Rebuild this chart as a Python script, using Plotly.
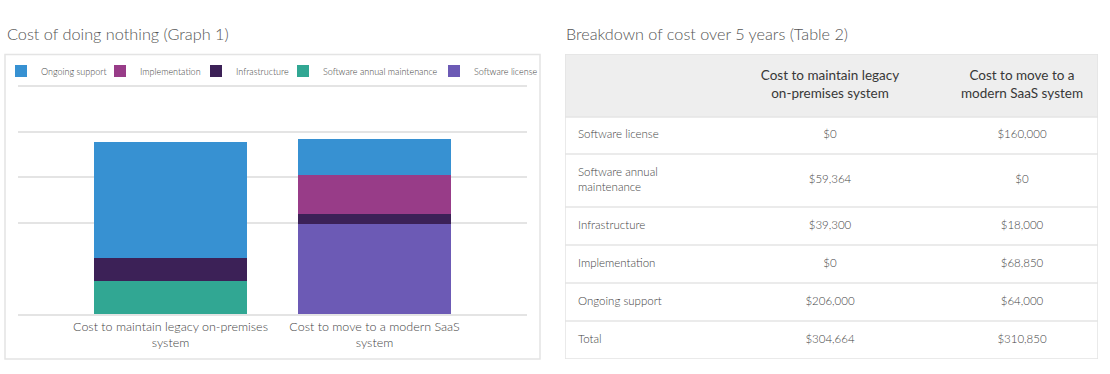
import plotly.graph_objects as go

# ---------------- data ----------------
SCENARIOS = ["Cost to maintain legacy on-premises system", "Cost to move to a modern SaaS system"]
SCENARIO_TICKS = ["Cost to maintain legacy on-premises<br>system", "Cost to move to a modern SaaS<br>system"]
TABLE_HEADERS = ["Cost to maintain legacy<br>on-premises system", "Cost to move to a<br>modern SaaS system"]

COMPONENTS = ["Software license", "Software annual maintenance", "Infrastructure", "Implementation", "Ongoing support"]
LEGACY = [0, 59364, 39300, 0, 206000]
SAAS = [160000, 0, 18000, 68850, 64000]
COLORS = ["#6C5AB5", "#31A793", "#3C2157", "#983C88", "#3791D2"]

# ---------------- styling / layout ----------------
W, H = 1110, 374
FONT = "Lato"
TXT = "#555555"
GRID = "#E4E4E4"


def px(x):
    return x / W


def py(y):
    return 1 - y / H


fig = go.Figure()

# left edge (px) of each legend square
LEGEND_SQ = {"Ongoing support": 15, "Implementation": 114, "Infrastructure": 210,
             "Software annual maintenance": 297, "Software license": 448}

for i, (name, color) in enumerate(zip(COMPONENTS, COLORS)):
    lg = "legend" if i == 0 else f"legend{i + 1}"
    fig.add_trace(go.Bar(
        x=SCENARIOS, y=[LEGACY[i], SAAS[i]], name=name,
        marker=dict(color=color, line=dict(width=0)),
        legend=lg, hoverinfo="skip",
    ))
    fig.update_layout({lg: dict(
        x=px(LEGEND_SQ[name] - 14), xanchor="left", y=py(71), yanchor="middle",
        orientation="h", bgcolor="rgba(0,0,0,0)", borderwidth=0,
        font=dict(family=FONT, size=9, color="#444444", weight=300),
        itemwidth=30,
    )})

# ---------------- table (drawn on its own hidden axes) ----------------
TW = 533                                   # table width in axis units (px)
ROW_EDGES = [0, 63, 100, 153, 191, 229, 267, 305]
COL_LABEL_X, COL2_X, COL3_X = 13, 265, 457

labels = [c.replace("annual ", "annual<br>") for c in COMPONENTS] + ["Total"]
legacy_col = [f"${v:,}" for v in LEGACY + [sum(LEGACY)]]
saas_col = [f"${v:,}" for v in SAAS + [sum(SAAS)]]
centers = [(a + b) / 2 for a, b in zip(ROW_EDGES[:-1], ROW_EDGES[1:])]
body_y = centers[1:]

cell_font = dict(family=FONT, size=11.5, color="#444444", weight=300)
fig.add_trace(go.Scatter(
    x=[COL2_X, COL3_X], y=[centers[0]] * 2, text=TABLE_HEADERS, mode="text",
    textposition="middle center", textfont=dict(family=FONT, size=13.5, color="#383838"),
    xaxis="x2", yaxis="y2", showlegend=False, hoverinfo="skip", cliponaxis=False,
))
fig.add_trace(go.Scatter(
    x=[COL_LABEL_X] * len(labels), y=body_y, text=labels, mode="text",
    textposition="middle right", textfont=cell_font,
    xaxis="x2", yaxis="y2", showlegend=False, hoverinfo="skip", cliponaxis=False,
))
fig.add_trace(go.Scatter(
    x=[COL2_X] * len(legacy_col) + [COL3_X] * len(saas_col), y=body_y + body_y,
    text=legacy_col + saas_col, mode="text",
    textposition="middle center", textfont=cell_font,
    xaxis="x2", yaxis="y2", showlegend=False, hoverinfo="skip", cliponaxis=False,
))

shapes = [
    dict(type="rect", xref="paper", yref="paper",
         x0=px(5), x1=px(540), y0=py(359), y1=py(54.5),
         line=dict(color=GRID, width=1.5), layer="below"),
    dict(type="rect", xref="x2", yref="y2", x0=0, x1=TW, y0=ROW_EDGES[0], y1=ROW_EDGES[1],
         fillcolor="#EEEEEE", line=dict(width=0), layer="below"),
]
for e in ROW_EDGES[1:-1]:
    shapes.append(dict(type="line", xref="x2", yref="y2", x0=0, x1=TW, y0=e, y1=e,
                       line=dict(color=GRID, width=1.5), layer="below"))
shapes.append(dict(type="rect", xref="x2", yref="y2", x0=0, x1=TW,
                   y0=ROW_EDGES[0], y1=ROW_EDGES[-1],
                   line=dict(color=GRID, width=1.5), layer="below"))

fig.update_layout(
    width=W, height=H, margin=dict(l=0, r=0, t=0, b=0),
    paper_bgcolor="white", plot_bgcolor="rgba(0,0,0,0)",
    barmode="stack", bargap=0.25, showlegend=True,
    font=dict(family=FONT, color=TXT),
    xaxis=dict(
        domain=[px(18), px(527)], range=[-0.7475, 1.7475], anchor="y",
        tickmode="array", tickvals=SCENARIOS, ticktext=SCENARIO_TICKS,
        tickfont=dict(family=FONT, size=12.5, color="#444444", weight=300),
        showline=True, linecolor=GRID, linewidth=1.5, ticks="",
        showgrid=False, fixedrange=True,
    ),
    yaxis=dict(
        domain=[py(314), py(84)], range=[0, 408550], anchor="x",
        tickmode="array", tickvals=[162000, 243000, 324000, 405000],
        showticklabels=False, showgrid=True, gridcolor=GRID, gridwidth=1.5,
        zeroline=False, showline=False, fixedrange=True,
    ),
    xaxis2=dict(domain=[px(565), px(1098)], range=[0, TW], anchor="y2", visible=False,
                fixedrange=True),
    yaxis2=dict(domain=[py(359), py(54)], range=[ROW_EDGES[-1], 0], anchor="x2",
                visible=False, fixedrange=True),
    shapes=shapes,
    annotations=[
        dict(text="Cost of doing nothing (Graph 1)", xref="paper", yref="paper",
             x=px(5), y=py(33), xanchor="left", yanchor="middle", showarrow=False,
             font=dict(family=FONT, size=16.3, color=TXT, weight=300)),
        dict(text="Breakdown of cost over 5 years (Table 2)", xref="paper", yref="paper",
             x=px(564), y=py(33), xanchor="left", yanchor="middle", showarrow=False,
             font=dict(family=FONT, size=16.2, color=TXT, weight=300)),
    ],
)

fig.write_html("out.html", config={"displayModeBar": False},
               post_script="document.body.style.margin='0';")
